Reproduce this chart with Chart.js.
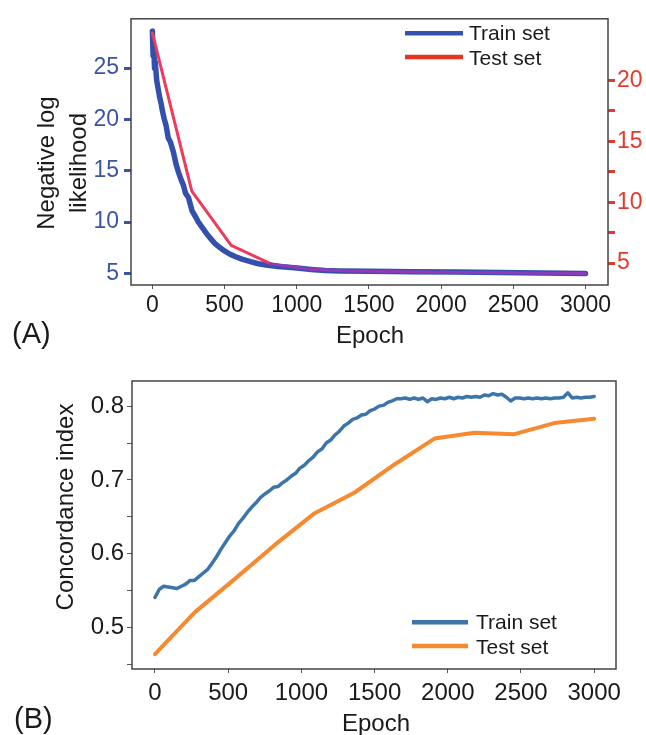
<!DOCTYPE html>
<html>
<head>
<meta charset="utf-8">
<script src="https://cdn.jsdelivr.net/npm/chart.js@4.4.1/dist/chart.umd.min.js"></script>
<style>
html, body { margin: 0; padding: 0; background: #fff; }
#wrapA { position: absolute; left: 0; top: 0; width: 646px; height: 362px; }
#wrapB { position: absolute; left: 0; top: 362px; width: 646px; height: 373px; }
</style>
</head>
<body>
<div id="wrapA"><canvas id="chartA" width="646" height="362"></canvas></div>
<div id="wrapB"><canvas id="chartB" width="646" height="373"></canvas></div>
<script>
const FONT = '"Liberation Sans", Arial, sans-serif';

// ---- panel A : negative log likelihood ----
const trainEpochsA = [0, 5, 10, 15, 20, 30, 40, 50, 60, 70, 83, 95, 110, 125, 146, 165, 180, 200, 215, 230,
  250, 275, 300, 319, 350, 380, 410, 434, 470, 500, 535, 573, 620, 680, 734, 800, 870, 940, 1002, 1100,
  1196, 1300, 1500, 1800, 2100, 2400, 2700, 3000];
const trainNllA = [28.6, 26.2, 27.0, 25.0, 25.6, 23.8, 23.0, 22.2, 21.6, 20.8, 20.0, 19.4, 18.2, 17.8, 16.8, 15.6, 14.9, 14.1, 13.6, 12.8,
  12.4, 11.1, 10.5, 10.0, 9.4, 8.8, 8.3, 7.9, 7.5, 7.2, 6.9, 6.65, 6.4, 6.15, 5.95, 5.8, 5.68, 5.6, 5.53, 5.4,
  5.29, 5.25, 5.22, 5.18, 5.14, 5.1, 5.05, 5.0];
const testEpochs = [0, 273, 546, 818, 1091, 1364, 1636, 1909, 2182, 2455, 2727, 3000];
const testNllA = [23.9, 10.9, 6.45, 4.95, 4.5, 4.35, 4.3, 4.26, 4.22, 4.2, 4.17, 4.15];
const xTicks = [0, 500, 1000, 1500, 2000, 2500, 3000];
const leftTicksA = [5, 10, 15, 20, 25];
const rightTicksA = [5, 7.5, 10, 12.5, 15, 17.5, 20];
const rightLabelsA = [5, 10, 15, 20];

// ---- panel B : concordance index ----
const trainEpochsB = [0, 30, 60, 90, 120, 150, 180, 210, 240, 270, 300, 330, 360, 390, 420, 450, 480, 510, 540, 570,
  600, 630, 660, 690, 720, 750, 780, 810, 840, 870, 900, 930, 960, 990, 1020, 1050, 1080, 1110, 1140, 1170,
  1200, 1230, 1260, 1290, 1320, 1350, 1380, 1410, 1440, 1470, 1500, 1530, 1560, 1590, 1620, 1650, 1680, 1710, 1740, 1770,
  1800, 1830, 1860, 1890, 1920, 1950, 1980, 2010, 2040, 2070, 2100, 2130, 2160, 2190, 2220, 2250, 2280, 2310, 2340, 2370,
  2400, 2430, 2460, 2490, 2520, 2550, 2580, 2610, 2640, 2670, 2700, 2730, 2760, 2790, 2820, 2850, 2880, 2910, 2940, 2970, 3000];
const trainCB = [0.541, 0.552, 0.556, 0.555, 0.554, 0.553, 0.556, 0.559, 0.564, 0.564, 0.569, 0.574, 0.579, 0.587, 0.596, 0.606, 0.615, 0.624, 0.631, 0.641,
  0.648, 0.656, 0.663, 0.669, 0.676, 0.681, 0.685, 0.690, 0.691, 0.696, 0.700, 0.705, 0.709, 0.716, 0.720, 0.726, 0.731, 0.738, 0.742, 0.750,
  0.754, 0.761, 0.766, 0.773, 0.777, 0.782, 0.784, 0.788, 0.789, 0.794, 0.796, 0.800, 0.801, 0.805, 0.807, 0.810, 0.810, 0.811, 0.809, 0.811,
  0.809, 0.811, 0.806, 0.810, 0.809, 0.811, 0.810, 0.812, 0.810, 0.812, 0.811, 0.813, 0.812, 0.813, 0.812, 0.815, 0.814, 0.817, 0.815, 0.816,
  0.812, 0.807, 0.811, 0.811, 0.810, 0.811, 0.810, 0.811, 0.810, 0.811, 0.810, 0.811, 0.811, 0.812, 0.818, 0.811, 0.812, 0.811, 0.812, 0.812, 0.813];
const testCB = [0.464, 0.521, 0.566, 0.612, 0.655, 0.683, 0.721, 0.756, 0.764, 0.762, 0.777, 0.783];
const yTicksB = [0.45, 0.5, 0.55, 0.6, 0.65, 0.7, 0.75, 0.8];
const yLabelsB = [0.5, 0.6, 0.7, 0.8];

function pts(xs, ys) {
  return xs.map((x, i) => ({ x: x, y: ys[i] }));
}

function fixedTicks(list) {
  return scale => { scale.ticks = list.map(v => ({ value: v })); };
}

// frame, axis titles, legend and panel letter
function decor(cfg) {
  return {
    id: 'decor',
    afterDatasetsDraw(chart) {
      const ctx = chart.ctx;
      const a = chart.chartArea;
      ctx.save();
      ctx.strokeStyle = '#444';
      ctx.lineWidth = 1.5;
      ctx.strokeRect(a.left, a.top, a.right - a.left, a.bottom - a.top);

      ctx.fillStyle = '#1a1a1a';
      ctx.font = '24px ' + FONT;
      ctx.textAlign = 'center';
      ctx.textBaseline = 'alphabetic';
      ctx.fillText('Epoch', cfg.xTitle[0], cfg.xTitle[1]);

      ctx.save();
      ctx.translate(0, cfg.yTitleY);
      ctx.rotate(-Math.PI / 2);
      cfg.yTitle.forEach((t, i) => ctx.fillText(t, 0, cfg.yTitleX[i]));
      ctx.restore();

      ctx.textAlign = 'left';
      ctx.font = '29px ' + FONT;
      ctx.fillText(cfg.panel, cfg.panelPos[0], cfg.panelPos[1]);

      ctx.font = '21px ' + FONT;
      cfg.legend.forEach(item => {
        ctx.strokeStyle = item.color;
        ctx.lineWidth = 4.5;
        ctx.beginPath();
        ctx.moveTo(cfg.legendX[0], item.y);
        ctx.lineTo(cfg.legendX[1], item.y);
        ctx.stroke();
        ctx.fillText(item.text, cfg.legendX[2], item.base);
      });
      ctx.restore();
    }
  };
}

const blueA = '#3350ae';
const redA = '#ef3a5d';
const plain = v => String(v);

new Chart(document.getElementById('chartA'), {
  type: 'line',
  data: {
    datasets: [
      { label: 'Train set', data: pts(trainEpochsA, trainNllA), yAxisID: 'yL',
        borderColor: blueA, borderWidth: 5.5, order: 2 },
      { label: 'Test set', data: pts(testEpochs, testNllA), yAxisID: 'yR',
        borderColor: redA, borderWidth: 3, order: 1,
        segment: { borderColor: c => c.p0.parsed.x >= 800 ? '#8c3cb8' : undefined } }
    ]
  },
  options: {
    responsive: false,
    animation: false,
    events: [],
    layout: { padding: { top: 12, left: 0, right: 0, bottom: 0 } },
    elements: { point: { radius: 0 }, line: { tension: 0, borderJoinStyle: 'round', borderCapStyle: 'round' } },
    plugins: { legend: { display: false }, tooltip: { enabled: false } },
    scales: {
      x: {
        type: 'linear', min: -148, max: 3156,
        afterBuildTicks: fixedTicks(xTicks),
        afterFit: s => { s.height = 77; },
        border: { display: false },
        grid: { drawOnChartArea: false, tickLength: 4, tickColor: '#555', tickWidth: 1 },
        ticks: { font: { family: FONT, size: 23 }, color: '#1a1a1a', padding: 3, maxRotation: 0, autoSkip: false,
          callback: plain }
      },
      yL: {
        type: 'linear', position: 'left', min: 3.88, max: 29.8,
        afterBuildTicks: fixedTicks(leftTicksA),
        afterFit: s => { s.width = 131; },
        border: { display: false },
        grid: { drawOnChartArea: false, tickLength: 7, tickColor: '#3a55a5', tickWidth: 3 },
        ticks: { font: { family: FONT, size: 23 }, color: '#3a55a5', padding: 5, autoSkip: false, callback: plain }
      },
      yR: {
        type: 'linear', position: 'right', min: 3.2, max: 25.06,
        afterBuildTicks: fixedTicks(rightTicksA),
        afterFit: s => { s.width = 38; },
        border: { display: false },
        grid: { drawOnChartArea: false, tickLength: 7, tickColor: '#e5392c', tickWidth: 3 },
        ticks: { font: { family: FONT, size: 23 }, color: '#e5392c', padding: 2, autoSkip: false,
          callback: v => rightLabelsA.includes(v) ? String(v) : '' }
      }
    }
  },
  plugins: [decor({
    xTitle: [370, 343], yTitle: ['Negative log', 'likelihood'], yTitleY: 163, yTitleX: [54, 85.5],
    panel: '(A)', panelPos: [12, 343],
    legendX: [405, 463, 469],
    legend: [
      { text: 'Train set', color: '#3552b0', y: 33.3, base: 40.3 },
      { text: 'Test set', color: '#e83322', y: 57, base: 65 }
    ]
  })]
});

new Chart(document.getElementById('chartB'), {
  type: 'line',
  data: {
    datasets: [
      { label: 'Train set', data: pts(trainEpochsB, trainCB), borderColor: '#3b75a9', borderWidth: 3.5, order: 2 },
      { label: 'Test set', data: pts(testEpochs, testCB), borderColor: '#f68a30', borderWidth: 4, order: 1 }
    ]
  },
  options: {
    responsive: false,
    animation: false,
    events: [],
    layout: { padding: { top: 19, left: 0, right: 30, bottom: 0 } },
    elements: { point: { radius: 0 }, line: { tension: 0, borderJoinStyle: 'round', borderCapStyle: 'round' } },
    plugins: { legend: { display: false }, tooltip: { enabled: false } },
    scales: {
      x: {
        type: 'linear', min: -157, max: 3149,
        afterBuildTicks: fixedTicks(xTicks),
        afterFit: s => { s.height = 66; },
        border: { display: false },
        grid: { drawOnChartArea: false, tickLength: 4, tickColor: '#555', tickWidth: 1 },
        ticks: { font: { family: FONT, size: 24 }, color: '#1a1a1a', padding: 6, maxRotation: 0, autoSkip: false,
          callback: plain }
      },
      y: {
        type: 'linear', position: 'left', min: 0.444, max: 0.834,
        afterBuildTicks: fixedTicks(yTicksB),
        afterFit: s => { s.width = 132; },
        border: { display: false },
        grid: { drawOnChartArea: false, tickLength: 5, tickColor: '#555', tickWidth: 1 },
        ticks: { font: { family: FONT, size: 24 }, color: '#1a1a1a', padding: 3, autoSkip: false,
          callback: v => yLabelsB.some(l => Math.abs(l - v) < 1e-9) ? v.toFixed(1) : '' }
      }
    }
  },
  plugins: [decor({
    xTitle: [376, 369], yTitle: ['Concordance index'], yTitleY: 145, yTitleX: [72.7],
    panel: '(B)', panelPos: [14, 365.7],
    legendX: [412, 468, 476],
    legend: [
      { text: 'Train set', color: '#3b75a9', y: 260.3, base: 267.3 },
      { text: 'Test set', color: '#f68a30', y: 284, base: 292.3 }
    ]
  })]
});
</script>
</body>
</html>
